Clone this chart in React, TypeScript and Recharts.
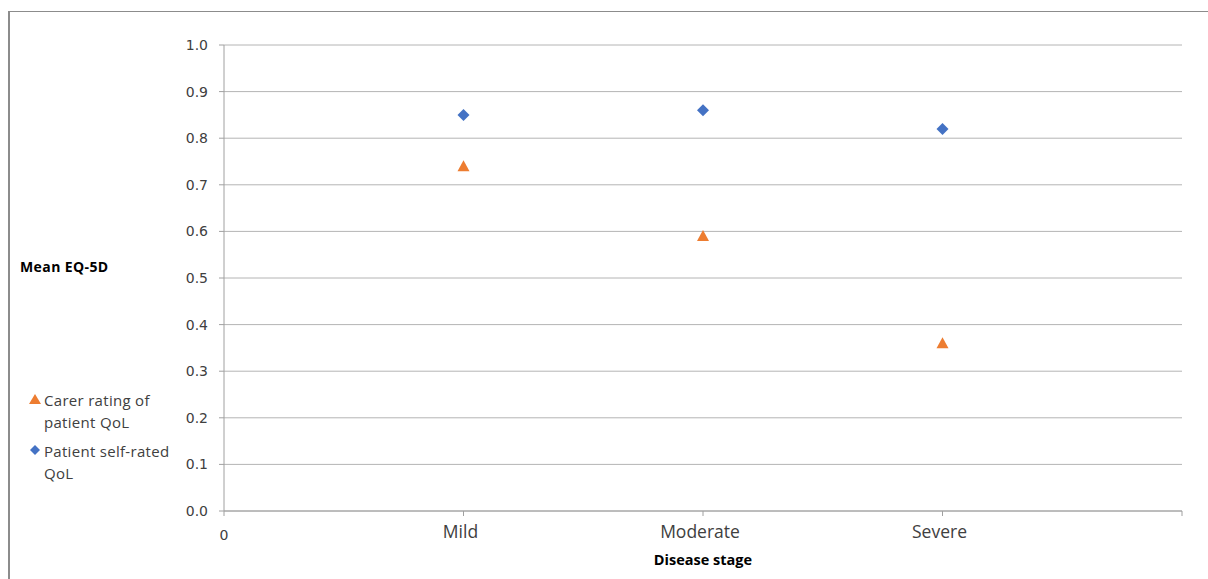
import { ScatterChart, Scatter, XAxis, YAxis, CartesianGrid } from "recharts"

// disease stages sit at x = 1..3 on a 0..4 numeric axis
const stageLabels = ["0", "Mild", "Moderate", "Severe", ""]
const stagePositions = [1, 2, 3]
const patientSelfRated = [0.85, 0.86, 0.82]
const carerRating = [0.74, 0.59, 0.36]
const yTicks = [0, 0.1, 0.2, 0.3, 0.4, 0.5, 0.6, 0.7, 0.8, 0.9, 1.0]

const BLUE = "#4472C4"
const ORANGE = "#ED7D31"
const AXIS = "#a0a0a0"
const GRID = "#b4b4b4"
const TEXT = "#404040"

const patientData = stagePositions.map((x, i) => ({ x, y: patientSelfRated[i] }))
const carerData = stagePositions.map((x, i) => ({ x, y: carerRating[i] }))

const Diamond = (props: any) => {
  const { cx, cy } = props
  const r = 6
  return <polygon points={`${cx},${cy - r} ${cx + r},${cy} ${cx},${cy + r} ${cx - r},${cy}`} fill={BLUE} />
}

const Triangle = (props: any) => {
  const { cx, cy } = props
  return <polygon points={`${cx},${cy - 6} ${cx + 6},${cy + 5} ${cx - 6},${cy + 5}`} fill={ORANGE} />
}

const XTick = (props: any) => {
  const { x, y, payload, index } = props
  const label = stageLabels[payload.value] ?? ""
  if (index === 0) {
    return (
      <text x={x} y={y + 22} textAnchor="middle" fontFamily="DejaVu Sans" fontSize={14} fill={TEXT}>
        {label}
      </text>
    )
  }
  return (
    <text x={x - 3} y={y + 20} textAnchor="middle" fontFamily="Open Sans" fontSize={17.5} fill={TEXT}>
      {label}
    </text>
  )
}

export default function App() {
  return (
    <div style={{ position: "absolute", left: 0, top: 0, width: 1208, height: 579, background: "#fff", overflow: "hidden" }}>
      <div
        style={{
          position: "absolute",
          left: 8,
          top: 11,
          width: 1300,
          height: 700,
          borderTop: "1px solid #8c8c8c",
          borderLeft: "2px solid #8c8c8c",
        }}
      />
      <ScatterChart width={1208} height={579} margin={{ top: 45, right: 26, bottom: 38, left: 164 }}>
        <CartesianGrid horizontal vertical={false} stroke={GRID} />
        <XAxis
          type="number"
          dataKey="x"
          domain={[0, 4]}
          ticks={[0, 1, 2, 3, 4]}
          height={30}
          stroke={AXIS}
          tickSize={5}
          tick={<XTick />}
        />
        <YAxis
          type="number"
          dataKey="y"
          domain={[0, 1]}
          ticks={yTicks}
          width={60}
          stroke={AXIS}
          tickSize={5}
          tickMargin={11}
          tickFormatter={(v: number) => v.toFixed(1)}
          tick={{ fontFamily: "DejaVu Sans", fontSize: 14, fill: TEXT }}
        />
        <Scatter name="Carer rating of patient QoL" data={carerData} shape={<Triangle />} isAnimationActive={false} />
        <Scatter name="Patient self-rated QoL" data={patientData} shape={<Diamond />} isAnimationActive={false} />
      </ScatterChart>
      <div
        style={{
          position: "absolute",
          left: 20,
          top: 257,
          fontFamily: "Open Sans",
          fontWeight: 700,
          fontSize: 14,
          letterSpacing: 0.4,
          color: "#000",
        }}
      >
        Mean EQ-5D
      </div>
      <div
        style={{
          position: "absolute",
          left: 603,
          width: 200,
          top: 550,
          textAlign: "center",
          fontFamily: "Open Sans",
          fontWeight: 700,
          fontSize: 14.5,
          color: "#000",
        }}
      >
        Disease stage
      </div>
      <div style={{ position: "absolute", left: 28, top: 389, fontFamily: "Open Sans", fontSize: 15, letterSpacing: 0.3, color: TEXT, lineHeight: "22px" }}>
        <div style={{ display: "flex" }}>
          <svg width={14} height={22}>
            <polygon points="7,5 13,15 1,15" fill={ORANGE} />
          </svg>
          <div style={{ marginLeft: 2 }}>
            Carer rating of
            <br />
            patient QoL
          </div>
        </div>
        <div style={{ display: "flex", marginTop: 7 }}>
          <svg width={14} height={22}>
            <polygon points="7,5 12,10 7,15 2,10" fill={BLUE} />
          </svg>
          <div style={{ marginLeft: 2 }}>
            Patient self-rated
            <br />
            QoL
          </div>
        </div>
      </div>
    </div>
  )
}
